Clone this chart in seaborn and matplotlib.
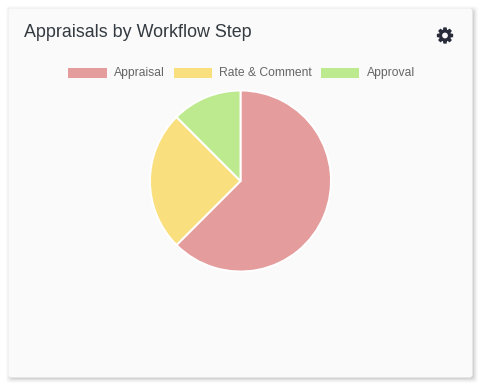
import numpy as np
import seaborn as sns
import matplotlib
matplotlib.use("Agg")
import matplotlib.pyplot as plt
from matplotlib.patches import FancyBboxPatch, PathPatch
from matplotlib.path import Path

categories = ["Appraisal", "Rate & Comment", "Approval"]
values = [5, 2, 1]
title = "Appraisals by Workflow Step"
colors = ["#E49C9C", "#FADF7E", "#BDE98F"]

sns.set_theme(style="white")
plt.rcParams["font.family"] = ["Liberation Sans", "DejaVu Sans"]

W, H = 485, 388
fig = plt.figure(figsize=(W / 100, H / 100), dpi=100, facecolor="white")

# Background layer in pixel coordinates (y down)
bg = fig.add_axes([0, 0, 1, 1])
bg.set_xlim(0, W)
bg.set_ylim(H, 0)
bg.axis("off")

# card shadow, soft and offset right/down
for grow, alpha in [(4, 0.018), (3, 0.025), (2, 0.035), (1, 0.045), (0, 0.055)]:
    bg.add_patch(FancyBboxPatch((8.5 + 1.5 - grow, 8.5 + 1.5 - grow), 464 + 2 * grow, 369 + 2 * grow,
                                boxstyle="round,pad=0,rounding_size=4",
                                fc="black", ec="none", alpha=alpha))
bg.add_patch(FancyBboxPatch((8.5, 8.5), 464, 369, boxstyle="round,pad=0,rounding_size=3",
                            fc="#FAFAFA", ec="none"))

bg.text(24, 37, title, fontsize=12.9, color="#333a40", ha="left", va="baseline")

# gear icon
cx, cy = 445, 35.5
n = 8
pts = []
for i in range(n):
    a = 2 * np.pi * i / n - np.pi / 2
    w = 0.26
    for da, r in [(-w * 1.35, 6.0), (-w * 0.75, 8.3), (w * 0.75, 8.3), (w * 1.35, 6.0)]:
        pts.append((cx + r * np.cos(a + da), cy + r * np.sin(a + da)))
pts.append(pts[0])
hole = [(cx + 2.9 * np.cos(t), cy + 2.9 * np.sin(t)) for t in np.linspace(0, -2 * np.pi, 25)]
verts = pts + hole
codes = [Path.MOVETO] + [Path.LINETO] * (len(pts) - 1) + [Path.MOVETO] + [Path.LINETO] * (len(hole) - 1)
bg.add_patch(PathPatch(Path(verts, codes), fc="#282c3a", ec="none"))

# Pie
cxp, cyp, r = 240.5, 181, 90.5
ax = fig.add_axes([(cxp - r) / W, 1 - (cyp + r) / H, 2 * r / W, 2 * r / H])
ax.set_facecolor("none")
wedges, _ = ax.pie(values, colors=colors, startangle=90, counterclock=False, radius=1,
                   wedgeprops=dict(edgecolor="white", linewidth=1.4), labels=None)
ax.set_xlim(-1, 1)
ax.set_ylim(-1, 1)
for w_ in wedges:
    w_.set_clip_on(False)

leg = fig.legend(wedges, categories, loc="center", bbox_to_anchor=(241.5 / W, 1 - 72.5 / H),
                 ncol=3, frameon=False, fontsize=8.7, labelcolor="#666666",
                 handlelength=3.17, handleheight=0.85, handletextpad=0.6,
                 columnspacing=0.75, borderpad=0, borderaxespad=0)
for h in leg.legend_handles:
    h.set_edgecolor("none")
    h.set_y(h.get_y() - 1.1)

fig.savefig("out.png", dpi=100, facecolor="white")
